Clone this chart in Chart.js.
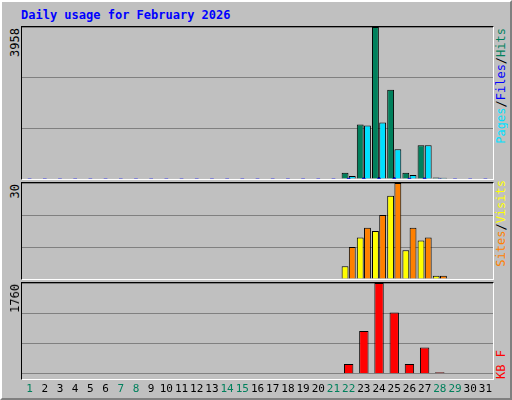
<!DOCTYPE html>
<html><head>
<script src="https://cdn.jsdelivr.net/npm/chart.js@4"></script>
<style>
body{margin:0;width:512px;height:400px;overflow:hidden;font-family:"DejaVu Sans Mono",monospace}
#frame{position:absolute;left:0;top:0;width:508px;height:396px;background:#c0c0c0;border:2px solid;border-color:#fff #808080 #808080 #fff;outline:1px solid #000}
.panel{position:absolute;left:19px;width:471px;border:1px solid #000;border-right-color:#fff;border-bottom-color:#fff}
.panel canvas{display:block}
.title{position:absolute;left:19px;top:6px;color:#0000ff;font-weight:bold;font-size:12px}
.vl{position:absolute;writing-mode:vertical-rl;transform:rotate(180deg);font-size:12px;white-space:nowrap}
</style>
</head><body>
<div id="frame">
<div class="title">Daily usage for February 2026</div>
<div class="panel" style="top:24px;height:152px"><canvas id="c1" width="471" height="152"></canvas></div>
<div class="panel" style="top:180px;height:96px"><canvas id="c2" width="471" height="96"></canvas></div>
<div class="panel" style="top:280px;height:96px"><canvas id="c3" width="473" height="114" style="position:absolute;left:-1px;top:0"></canvas></div>
<div class="vl" style="left:6px;top:26px">3958</div>
<div class="vl" style="left:6px;top:182px">30</div>
<div class="vl" style="left:6px;top:282px">1760</div>
<div class="vl" style="left:492px;top:26px"><span style="color:#00e0ff">Pages</span>/<span style="color:#0000ff">Files</span>/<span style="color:#00805c">Hits</span></div>
<div class="vl" style="left:492px;top:178px"><span style="color:#ff8000">Sites</span>/<span style="color:#ffff00">Visits</span></div>
<div class="vl" style="left:492px;top:348px;color:#ff0000">KB F</div>
</div>
<script>
// days of February 2026
const days = Array.from({length: 31}, (_, i) => String(i + 1));
const weekend = ['1', '7', '8', '14', '15', '21', '22', '28', '29'];

const hits   = [0,0,0,0,0,0,0,0,0,0,0,0,0,0,0,0,0,0,0,0,0,160,1417,3958,2327,160,880,40,0,0,0];
const files  = [0,0,0,0,0,0,0,0,0,0,0,0,0,0,0,0,0,0,0,0,0,20,30,40,40,20,30,0,0,0,0];
const pages  = [0,0,0,0,0,0,0,0,0,0,0,0,0,0,0,0,0,0,0,0,0,80,1390,1470,775,107,880,30,0,0,0];
const sites  = [0,0,0,0,0,0,0,0,0,0,0,0,0,0,0,0,0,0,0,0,0,4,13,15,26,9,12,1,0,0,0];
const visits = [0,0,0,0,0,0,0,0,0,0,0,0,0,0,0,0,0,0,0,0,0,10,16,20,30,16,13,1,0,0,0];
const kbytes = [0,0,0,0,0,0,0,0,0,0,0,0,0,0,0,0,0,0,0,0,0,190,830,1760,1190,190,510,30,0,0,0];

const maxTop = 3958, maxMid = 30, maxBot = 1760;

function bar(label, data, color, extra) {
    return Object.assign({label, data, backgroundColor: color, borderColor: '#000',
        borderWidth: ctx => ctx.raw > 0 ? 1 : 0,
        categoryPercentage: 0.95, barPercentage: 0.95}, extra || {});
}

function panel(id, datasets, max, showX) {
    new Chart(document.getElementById(id), {
        type: 'bar',
        data: {labels: days, datasets},
        options: {
            responsive: false, animation: false,
            layout: {padding: showX ? {left: 1, right: 1} : 0},
            plugins: {legend: {display: false}, tooltip: {enabled: false}},
            scales: {
                x: {
                    display: showX,
                    grid: {display: false}, border: {display: false},
                    ticks: {
                        padding: 1, autoSkip: false, maxRotation: 0,
                        font: {family: 'DejaVu Sans Mono', size: 11},
                        color: ctx => weekend.includes(days[ctx.index]) ? '#00805c' : '#000'
                    }
                },
                y: {
                    min: 0, max: max,
                    ticks: {display: false, stepSize: max / 3},
                    grid: {color: '#808080', drawTicks: false}, border: {display: false}
                }
            }
        }
    });
}

panel('c1', [
    bar('Hits', hits, '#00805c'),
    bar('Pages', pages, '#00e0ff'),
    bar('Files', files, '#0000ff', {grouped: false, barThickness: 3, borderWidth: 0})
], maxTop, false);

panel('c2', [
    bar('Sites', sites, '#ffff00'),
    bar('Visits', visits, '#ff8000')
], maxMid, false);

panel('c3', [
    bar('KB F', kbytes, '#ff0000', {barPercentage: 0.65})
], maxBot, true);
</script>
</body></html>
